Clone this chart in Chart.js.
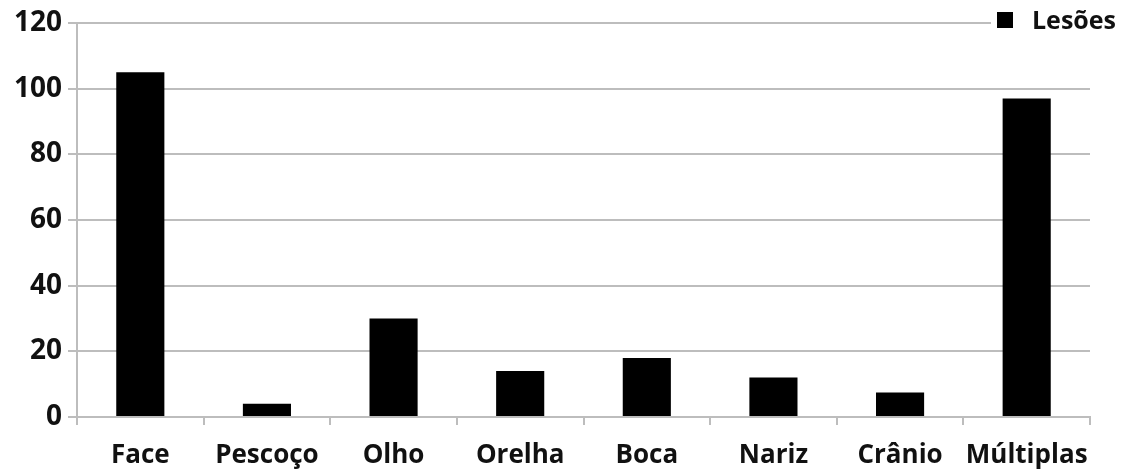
<!DOCTYPE html>
<html>
<head>
<meta charset="utf-8">
<script src="https://cdn.jsdelivr.net/npm/chart.js@4"></script>
<style>
  html, body { margin: 0; padding: 0; background: #fff; }
  #wrap { width: 1126px; height: 472px; }
</style>
</head>
<body>
<div id="wrap"><canvas id="c" width="1126" height="472"></canvas></div>
<script>
const categories = ['Face', 'Pescoço', 'Olho', 'Orelha', 'Boca', 'Nariz', 'Crânio', 'Múltiplas'];
const lesoes = [105, 4, 30, 14, 18, 12, 7.5, 97];
const seriesLabel = 'Lesões';
const yTicks = [0, 20, 40, 60, 80, 100, 120];

const FONT = "'Open Sans', 'DejaVu Sans', sans-serif";
const GRID = '#bdbdbd';

// Legend box drawn over the top-right of the plot (white backing hides the gridline)
const cornerLegend = {
  id: 'cornerLegend',
  afterDraw(chart) {
    const ctx = chart.ctx;
    const ds = chart.data.datasets[0];
    ctx.save();
    ctx.font = "bold 25px " + FONT;
    const tw = ctx.measureText(ds.label).width;
    const x0 = 991, y = 21;
    ctx.fillStyle = '#fff';
    ctx.fillRect(x0, y - 15, 40 + tw + 10, 30);
    ctx.fillStyle = ds.backgroundColor;
    ctx.fillRect(x0 + 6, y - 9, 16, 16);
    ctx.fillStyle = '#111';
    ctx.textBaseline = 'middle';
    ctx.textAlign = 'left';
    ctx.fillText(ds.label, x0 + 41, y + 1);
    ctx.restore();
  }
};

new Chart(document.getElementById('c'), {
  type: 'bar',
  data: {
    labels: categories,
    datasets: [{
      label: seriesLabel,
      data: lesoes,
      backgroundColor: '#000',
      borderWidth: 0,
      categoryPercentage: 1.0,
      barPercentage: 0.38
    }]
  },
  options: {
    responsive: false,
    animation: false,
    layout: { padding: { top: 23, right: 36, left: 0, bottom: 0 } },
    plugins: { legend: { display: false }, tooltip: { enabled: false } },
    scales: {
      x: {
        grid: { drawOnChartArea: false, color: GRID, lineWidth: 2, tickLength: 8, offset: true },
        border: { color: GRID, width: 2 },
        ticks: { color: '#111', font: { family: FONT, size: 26, weight: 'bold' }, padding: 15, maxRotation: 0 },
        afterFit(s) { s.height = 55; }
      },
      y: {
        min: 0, max: 120,
        afterBuildTicks(s) { s.ticks = yTicks.map(v => ({ value: v })); },
        grid: { color: GRID, lineWidth: 2, tickLength: 9 },
        border: { color: GRID, width: 2 },
        ticks: { color: '#111', font: { family: FONT, size: 28, weight: 'bold' }, padding: 6 },
        afterFit(s) { s.width = 77; }
      }
    }
  },
  plugins: [cornerLegend]
});
</script>
</body>
</html>
